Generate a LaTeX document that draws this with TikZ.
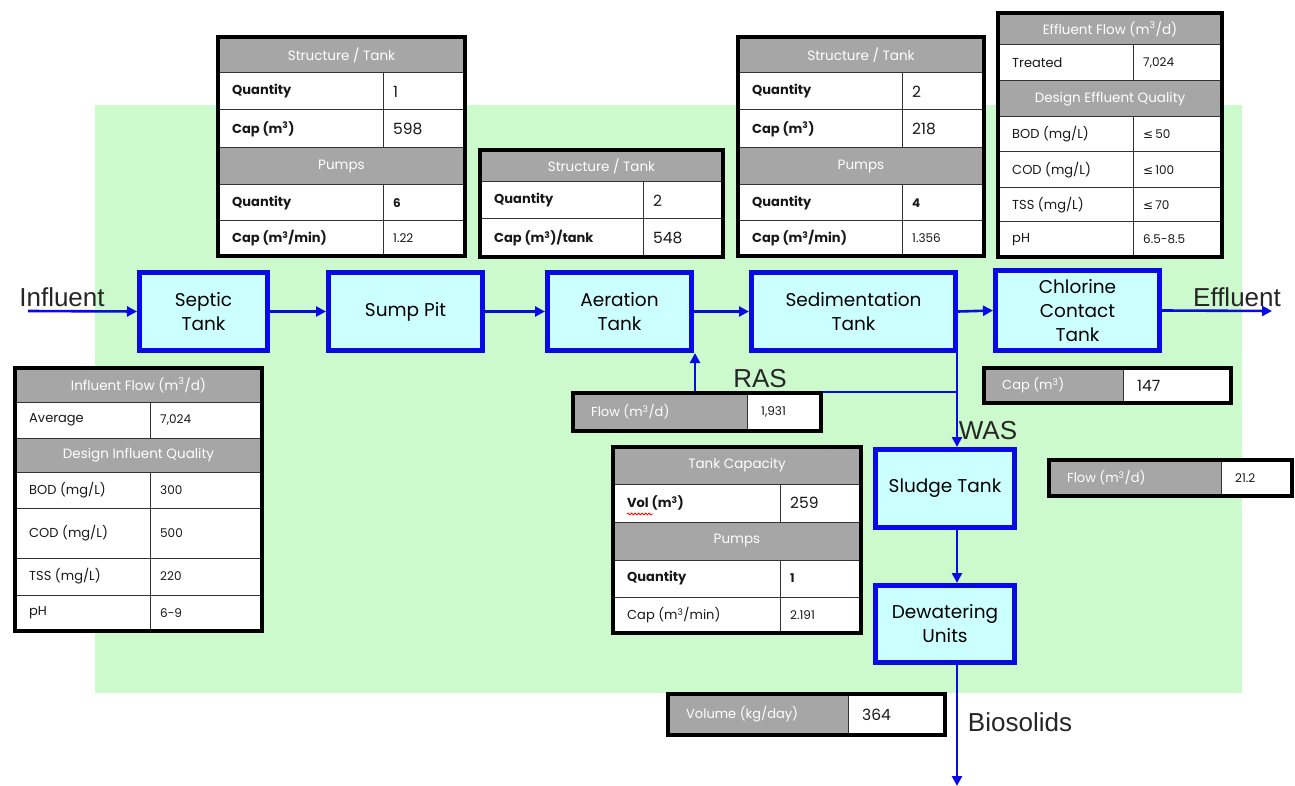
\documentclass[tikz,border=0pt]{standalone}
\usepackage{fontspec}
\setmainfont{Poppins}
\newfontfamily\labfont{Liberation Sans}
\newfontfamily\dejavu{DejaVu Sans}
\usetikzlibrary{arrows.meta,decorations.pathmorphing}
\definecolor{bggreen}{HTML}{CCFACC}
\definecolor{boxfill}{HTML}{CCFFFF}
\definecolor{flowblue}{HTML}{0A0AE6}
\definecolor{hdrgray}{HTML}{A6A6A6}
\newcount\cellno
\newcommand\cellnode[3]{\global\advance\cellno by 1 \node[#1] (cell\the\cellno) at (#2) {#3};}
\newcommand\TabHead[5]{%
  \fill[hdrgray] (#1,#3) rectangle (#2,#4);
  \draw[cellline] (#1,#3) rectangle (#2,#4);
  \cellnode{hdrtxt}{{(#1+#2)/2},{(#3+#4)/2}}{#5}}
\newcommand\TabRow[7]{%
  \fill[white] (#1,#4) rectangle (#3,#5);
  \draw[cellline] (#1,#4) rectangle (#3,#5) (#2,#4) -- (#2,#5);
  \cellnode{celltxt}{{#1+14},{(#4+#5)/2}}{#6}
  \cellnode{celltxt}{{#2+10},{(#4+#5)/2}}{#7}}
\newcommand\GrayRow[7]{%
  \fill[hdrgray] (#1,#4) rectangle (#2,#5);
  \fill[white] (#2,#4) rectangle (#3,#5);
  \draw[cellline] (#2,#4) -- (#2,#5);
  \cellnode{celltxt,text=white}{{#1+18},{(#4+#5)/2}}{#6}
  \cellnode{celltxt}{{#2+14},{(#4+#5)/2}}{#7}
  \draw[frame] (#1,#4) rectangle (#3,#5);}
\newcommand\TabFrame[4]{\draw[frame] (#1,#3) rectangle (#2,#4);}
\newcommand\bignum[1]{{\fontsize{15.5}{17}\selectfont #1}}
\newcommand\smallnum[1]{{\fontsize{12}{14}\selectfont #1}}
\newcommand\msup{\textsuperscript{3}}
\begin{document}
\begin{tikzpicture}[x=1pt,y=-1pt,
  proc/.style={draw=flowblue,line width=5pt,fill=boxfill,align=center,
     font=\fontsize{18.5}{24}\selectfont,inner sep=0pt},
  flow/.style={draw=flowblue,line width=2.6pt,-{Triangle[length=10pt,width=10pt]}},
  lab/.style={font=\labfont\fontsize{26}{30}\selectfont,text=black!85,inner sep=0pt},
  cellline/.style={draw=black!80,line width=1pt},
  frame/.style={draw=black,line width=4pt},
  hdrtxt/.style={text=white,font=\fontsize{13.5}{15}\selectfont,inner sep=0pt},
  celltxt/.style={anchor=west,text=black!90,font=\fontsize{13}{15}\selectfont,inner sep=0pt}]
\useasboundingbox (0,0) rectangle (1295,786);
\fill[white] (0,0) rectangle (1295,786);
\fill[bggreen] (95,105) rectangle (1242,693);

% process boxes
\node[proc,minimum width=128,minimum height=78] (septic) at (203.5,311.5) {Septic\\Tank};
\node[proc,minimum width=154,minimum height=78] (sump) at (405.5,311.5) {Sump Pit};
\node[proc,minimum width=144,minimum height=78] (aer) at (619.5,311.5) {Aeration\\Tank};
\node[proc,minimum width=204,minimum height=78] (sed) at (853.5,311.5) {Sedimentation\\Tank};
\node[proc,minimum width=164,minimum height=80] (chlor) at (1077.5,310.5) {Chlorine\\Contact\\Tank};
\node[proc,minimum width=139,minimum height=78] (sludge) at (945,488.5) {Sludge Tank};
\node[proc,minimum width=139,minimum height=77] (dew) at (945,624) {Dewatering\\Units};

% connectors
\coordinate (inf) at (28,311);
\coordinate (eff) at (1272,311);
\coordinate (split) at (957,392);
\coordinate (rasc) at (695,392);
\coordinate (bio) at (957,786);
\draw[flow] (inf) -- (septic.west);
\draw[flow] (septic.east) -- (sump.west);
\draw[flow] (sump.east) -- (aer.west);
\draw[flow] (aer.east) -- (sed.west);
\draw[flow] (sed.east) -- (chlor.west);
\draw[flow] (chlor.east) -- (eff);
\draw[flow] (sed.south -| split) -- (sludge.north -| split);
\draw[flow] (split) -- (rasc) -- (aer.south -| rasc);
\draw[flow] (sludge.south -| split) -- (dew.north -| split);
\draw[flow] (dew.south -| split) -- (bio);

% flow labels
\node[lab] (linf) at (62,297) {Influent};
\node[lab] (leff) at (1237,297) {Effluent};
\node[lab] (lras) at (760,379) {RAS};
\node[lab] (lwas) at (988,431) {WAS};
\node[lab] (lbio) at (1020,722) {Biosolids};

% table 1 (septic / sump)
\TabHead{218}{465}{37}{73}{Structure / Tank}
\TabRow{218}{383}{465}{73}{110}{\bfseries Quantity}{\bignum{1}}
\TabRow{218}{383}{465}{110}{148}{\bfseries Cap (m\msup)}{\bignum{598}}
\TabHead{218}{465}{148}{185}{Pumps}
\TabRow{218}{383}{465}{185}{221}{\bfseries Quantity}{\smallnum{\bfseries 6}}
\TabRow{218}{383}{465}{221}{256}{\bfseries Cap (m\msup/min)}{\smallnum{1.22}}
\TabFrame{218}{465}{37}{256}

% table 2 (aeration)
\TabHead{480}{723}{150}{182}{Structure / Tank}
\TabRow{480}{643}{723}{182}{219}{\bfseries Quantity}{\bignum{2}}
\TabRow{480}{643}{723}{219}{257}{\bfseries Cap (m\msup)/tank}{\bignum{548}}
\TabFrame{480}{723}{150}{257}

% table 3 (sedimentation)
\TabHead{738}{984}{37}{73}{Structure / Tank}
\TabRow{738}{902}{984}{73}{110}{\bfseries Quantity}{\bignum{2}}
\TabRow{738}{902}{984}{110}{148}{\bfseries Cap (m\msup)}{\bignum{218}}
\TabHead{738}{984}{148}{185}{Pumps}
\TabRow{738}{902}{984}{185}{221}{\bfseries Quantity}{\smallnum{\bfseries 4}}
\TabRow{738}{902}{984}{221}{256}{\bfseries Cap (m\msup/min)}{\smallnum{1.356}}
\TabFrame{738}{984}{37}{256}

% table 4 (effluent)
\TabHead{998}{1222}{13}{45}{Effluent Flow (m\msup/d)}
\TabRow{998}{1133}{1222}{45}{81}{Treated}{\smallnum{7,024}}
\TabHead{998}{1222}{81}{117}{Design Effluent Quality}
\TabRow{998}{1133}{1222}{117}{152}{BOD (mg/L)}{\smallnum{{\dejavu ≤}\,50}}
\TabRow{998}{1133}{1222}{152}{188}{COD (mg/L)}{\smallnum{{\dejavu ≤}\,100}}
\TabRow{998}{1133}{1222}{188}{222}{TSS (mg/L)}{\smallnum{{\dejavu ≤}\,70}}
\TabRow{998}{1133}{1222}{222}{257}{pH}{\smallnum{6.5-8.5}}
\TabFrame{998}{1222}{13}{257}

% table 5 (influent)
\TabHead{15}{262}{368}{402}{Influent Flow (m\msup/d)}
\TabRow{15}{150}{262}{402}{438}{Average}{\smallnum{7,024}}
\TabHead{15}{262}{438}{472}{Design Influent Quality}
\TabRow{15}{150}{262}{472}{508}{BOD (mg/L)}{\smallnum{300}}
\TabRow{15}{150}{262}{508}{558}{COD (mg/L)}{\smallnum{500}}
\TabRow{15}{150}{262}{558}{595}{TSS (mg/L)}{\smallnum{220}}
\TabRow{15}{150}{262}{595}{631}{pH}{\smallnum{6-9}}
\TabFrame{15}{262}{368}{631}

% tank capacity (sludge)
\TabHead{613}{861}{447}{484}{Tank Capacity}
\TabRow{613}{780}{861}{484}{522}{\bfseries Vol (m\msup)}{\bignum{259}}
\TabHead{613}{861}{522}{560}{Pumps}
\TabRow{613}{780}{861}{560}{597}{\bfseries Quantity}{\smallnum{\bfseries 1}}
\TabRow{613}{780}{861}{597}{633}{Cap (m\msup/min)}{\smallnum{2.191}}
\TabFrame{613}{861}{447}{633}
\draw[red,line width=0.8pt,decorate,decoration={snake,amplitude=0.9pt,segment length=3.5pt}] (627,514) -- (653,514);

% single-row boxes
\GrayRow{573}{747}{821}{393}{431}{Flow (m\msup/d)}{\smallnum{1,931}}
\GrayRow{984}{1123}{1231}{368}{403}{Cap (m\msup)}{\bignum{147}}
\GrayRow{1049}{1221}{1292}{460}{496}{Flow (m\msup/d)}{\smallnum{21.2}}
\GrayRow{668}{848}{945}{694}{735}{Volume (kg/day)}{\bignum{364}}
\end{tikzpicture}
\end{document}
